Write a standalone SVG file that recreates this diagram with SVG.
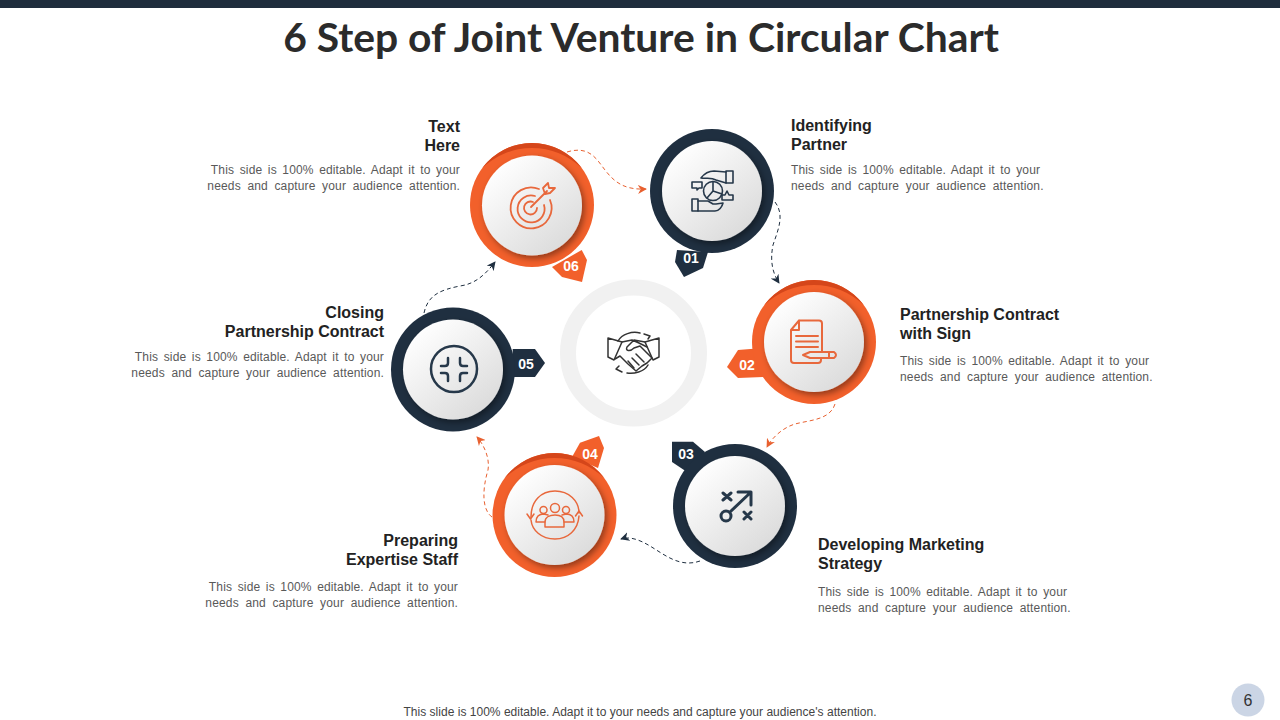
<svg xmlns="http://www.w3.org/2000/svg" width="1280" height="720" viewBox="0 0 1280 720">
<style>
text{font-family:"Liberation Sans",Arial,sans-serif}
.title{font-family:Lato,"Liberation Sans",sans-serif;font-size:40.800px;font-weight:700;fill:#2B2B2B}
.h{font-size:16px;font-weight:700;fill:#222}
.d1{font-size:12px;fill:#595959;letter-spacing:0.15px;word-spacing:2.05px}
.d2{font-size:12px;fill:#595959;letter-spacing:0.15px;word-spacing:3.1px}
.n{font-size:14px;font-weight:700;fill:#fff;text-anchor:middle}
.e{text-anchor:end}
.navy{fill:#1F2F40}.or{fill:#F2602B}.ord{fill:#D5461A}
.in{fill:url(#g);filter:url(#s)}
.ic{fill:none;stroke-linejoin:round;stroke-linecap:round}
.icn{stroke:#26384A}.ico{stroke:#E8683C}
.c{fill:none;stroke-width:1;stroke-dasharray:4 3}
</style>
<defs>
<linearGradient id="g" x1="0.15" y1="0.1" x2="0.85" y2="0.95"><stop offset="0" stop-color="#fff"/><stop offset="1" stop-color="#dadada"/></linearGradient>
<filter id="s" x="-20%" y="-20%" width="150%" height="150%"><feDropShadow dx="2.500" dy="3" stdDeviation="3" flood-color="#000" flood-opacity="0.4"/></filter>
<path id="cres" class="ord" d="M-50 -36.700A62 62 0 0 1 50 -36.700A71.700 71.700 0 0 0 -50 -36.700Z"/>
<marker id="an" viewBox="0 0 10 10" refX="9" refY="5" markerWidth="9" markerHeight="9" orient="auto" markerUnits="userSpaceOnUse"><path d="M0 0L10 5L0 10L3 5Z" fill="#1F2F40"/></marker>
<marker id="ao" viewBox="0 0 10 10" refX="9" refY="5" markerWidth="9" markerHeight="9" orient="auto" markerUnits="userSpaceOnUse"><path d="M0 0L10 5L0 10L3 5Z" fill="#E8602F"/></marker>
</defs>
<rect width="1280" height="720" fill="#fff"/>
<rect width="1280" height="8" fill="#1F2D3D"/>
<text class="title" x="641" y="52" text-anchor="middle">6 Step of Joint Venture in Circular Chart</text>

<g id="connectors">
<path class="c" stroke="#E8602F" marker-end="url(#ao)" d="M567 152C590 145 597 160 605 170C615 183 625 190 646 189"/>
<path class="c" stroke="#1F2F40" marker-end="url(#an)" d="M775 202C785 215 778 230 773 245C770 260 772 272 779 283"/>
<path class="c" stroke="#E8602F" marker-end="url(#ao)" d="M835 404C830 420 810 420 795 424C782 428 772 438 767 447"/>
<path class="c" stroke="#1F2F40" marker-end="url(#an)" d="M700 561C680 568 665 555 650 546C640 540 630 536 621 539"/>
<path class="c" stroke="#E8602F" marker-end="url(#ao)" d="M492 517C482 510 482 490 488 470C490 458 484 445 477 437"/>
<path class="c" stroke="#1F2F40" marker-end="url(#an)" d="M424 313C428 295 440 290 460 286C475 284 485 275 495 262"/>
</g>

<g id="hub">
<circle cx="633.500" cy="353" r="65.500" fill="none" stroke="#F1F1F1" stroke-width="16"/>
<g class="ic" stroke="#333" stroke-width="1.500">
<path d="M608 338L622 342L614 360L608 357ZM659 338L645 342L653 360L659 357Z"/>
<path d="M622 342L632 340L639 343L647 347M645 342L634 340L627 347C625 351 630 352 634 348L640 346L652 358L647 363L642 366L636 371L628 364L620 356L615 359"/>
<path d="M632 358L639 365M636 354L644 362M628 361L634 368"/>
<path d="M618 341C622 334 632 331 640 333M644 334L650 336L648 339M648 365C644 372 634 374 627 373M622 372L616 369L619 366"/>
</g>
</g>

<g id="node-01">
<polygon class="navy" points="677,250 675,262 684,277 703,268 708,252"/>
<circle class="navy" cx="712" cy="191" r="62"/>
<circle class="in" cx="712" cy="191" r="50"/>
<text class="n" x="691" y="263">01</text>
<g class="ic icn" stroke-width="1.600">
<rect x="726" y="171" width="7" height="12"/>
<path d="M726 172L714 171C708 171 704 174 701 178C706 179 711 177 716 180L726 183"/>
<circle cx="713" cy="191" r="9.500"/>
<path d="M713 191V181.500M713 191L722 194M713 191L707 198"/>
<path d="M692 182H702V188H699L697 190V188H692Z"/>
<path d="M722 200V195H725L727 191L729 195H733V200Z"/>
<rect x="692" y="199" width="6" height="12"/>
<path d="M698 201H708L713 204H716L723 203C722 207 719 211 715 211H698"/>
</g>
</g>

<g id="node-02">
<polygon class="or" points="727,367 738,350 763,348 763,377 738,378"/>
<circle class="or" cx="814" cy="342" r="62"/>
<use href="#cres" x="814" y="342"/>
<circle class="in" cx="814" cy="342" r="50"/>
<text class="n" x="747" y="370">02</text>
<g class="ic ico" stroke-width="2">
<path d="M799 320.500H819Q822 320.500 822 323.500V352M791 330L799 320.500V330H791V360Q791 363 794 363H818Q821 363 821 360V358"/>
<path d="M796 336H818M796 341.500H818M796 347H818"/>
<path d="M803 355L810 352H834Q838 355 834 358H810Z"/>
<path d="M829 352V358"/>
</g>
</g>

<g id="node-03">
<polygon class="navy" points="672,441.700 693,441.700 705,452 687,472 672,462"/>
<circle class="navy" cx="735" cy="506" r="62"/>
<circle class="in" cx="735" cy="506" r="50"/>
<text class="n" x="686" y="459">03</text>
<g class="ic icn" stroke-width="3">
<circle cx="726" cy="516" r="5"/>
<path d="M730 512L750 493M738 492H751V505"/>
<path d="M723 493L731 500M731 493L723 500M744 512L751 519M751 512L744 519"/>
</g>
</g>

<g id="node-04">
<polygon class="or" points="580,442.700 599,436 604,448 598,468 572,457"/>
<circle class="or" cx="554.500" cy="515" r="62"/>
<use href="#cres" x="554.500" y="515"/>
<circle class="in" cx="554.500" cy="515" r="50"/>
<text class="n" x="590" y="459">04</text>
<g class="ic ico" stroke-width="1.500">
<path d="M531 517C531 501 541 491 555 491C569 491 579 501 579 513M579 516C578 530 568 539 555 539C541 539 532 530 531 520"/>
<path d="M527 514L530.500 519L534 514M575.500 516L579 511L582.500 516"/>
<circle cx="555" cy="508" r="4.500"/>
<circle cx="543.500" cy="510" r="3.500"/>
<circle cx="566" cy="510" r="3.500"/>
<path d="M545 527V522C545 517 550 515 555 515C560 515 564 517 564 522V527Z"/>
<path d="M545 522H536C536 517 539 514 544 514L548 515M564 522H574C574 517 571 514 566 514L562 515"/>
</g>
</g>

<g id="node-05">
<polygon class="navy" points="512.700,349 535,349 545,363 535,377 513,377"/>
<circle class="navy" cx="453" cy="369.500" r="62"/>
<circle class="in" cx="453" cy="369.500" r="50"/>
<text class="n" x="526" y="369">05</text>
<g class="ic icn" stroke-width="2.500">
<circle cx="454" cy="369" r="23"/>
<path d="M448 358V363Q448 366 445 366H441M460 358V363Q460 366 463 366H467M448 381V376Q448 373 445 373H441M460 381V376Q460 373 463 373H467"/>
</g>
</g>

<g id="node-06">
<polygon class="or" points="581.700,250 587,260 582,282 562,277 552,267"/>
<circle class="or" cx="532" cy="205" r="62"/>
<use href="#cres" x="532" y="205"/>
<circle class="in" cx="532" cy="205.500" r="50"/>
<text class="n" x="571" y="271">06</text>
<g class="ic ico" stroke-width="1.800">
<path d="M539 189A20.500 20.500 0 1 0 550 200"/>
<path d="M535 196A13.500 13.500 0 1 0 544 205"/>
<path d="M533 202A6.500 6.500 0 1 0 537 208"/>
<path d="M531 207L547 191M543 188L548 183L549 188L555 188L550 193L545 194M543 188L545 194"/>
</g>
</g>

<g id="text-01"><text class="h" x="791" y="131">Identifying</text><text class="h" x="791" y="150">Partner</text><text class="d1" x="791" y="174">This side is 100% editable. Adapt it to your</text><text class="d2" x="791" y="190">needs and capture your audience attention.</text></g>
<g id="text-02"><text class="h" x="900" y="320">Partnership Contract</text><text class="h" x="900" y="339">with Sign</text><text class="d1" x="900" y="365">This side is 100% editable. Adapt it to your</text><text class="d2" x="900" y="381">needs and capture your audience attention.</text></g>
<g id="text-03"><text class="h" x="818" y="550">Developing Marketing</text><text class="h" x="818" y="569">Strategy</text><text class="d1" x="818" y="596">This side is 100% editable. Adapt it to your</text><text class="d2" x="818" y="612">needs and capture your audience attention.</text></g>
<g id="text-04"><text class="h e" x="458" y="546">Preparing</text><text class="h e" x="458" y="565">Expertise Staff</text><text class="d1 e" x="458" y="591">This side is 100% editable. Adapt it to your</text><text class="d2 e" x="458" y="607">needs and capture your audience attention.</text></g>
<g id="text-05"><text class="h e" x="384" y="318">Closing</text><text class="h e" x="384" y="337">Partnership Contract</text><text class="d1 e" x="384" y="361">This side is 100% editable. Adapt it to your</text><text class="d2 e" x="384" y="377">needs and capture your audience attention.</text></g>
<g id="text-06"><text class="h e" x="460" y="132">Text</text><text class="h e" x="460" y="151">Here</text><text class="d1 e" x="460" y="174">This side is 100% editable. Adapt it to your</text><text class="d2 e" x="460" y="190">needs and capture your audience attention.</text></g>

<text x="640" y="716" font-size="12" fill="#444" text-anchor="middle" style="letter-spacing:0.02px">This slide is 100% editable. Adapt it to your needs and capture your audience's attention.</text>
<g id="page"><circle cx="1248" cy="700" r="16.500" fill="#CBD5E5"/><text x="1248" y="706" font-size="16" fill="#333" text-anchor="middle">6</text></g>
</svg>
